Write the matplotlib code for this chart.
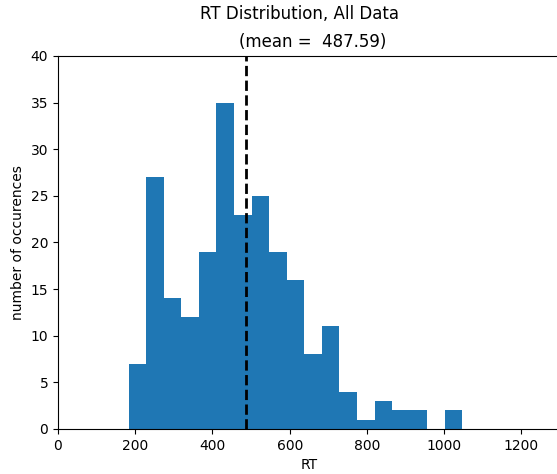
import numpy as np
import matplotlib
matplotlib.use("Agg")
import matplotlib.pyplot as plt

# histogram: 19 equal bins
bin_start = 183.0
bin_end = 1047.0
counts = [7, 27, 14, 12, 19, 35, 23, 25, 19, 16, 8, 11, 4, 1, 3, 2, 2, 0, 2]
mean_rt = 487.59

edges = np.linspace(bin_start, bin_end, len(counts) + 1)
centers = (edges[:-1] + edges[1:]) / 2

fig = plt.figure(figsize=(5.57, 4.74), dpi=100)
ax = fig.add_axes([58 / 557, 45 / 474, 502 / 557, 373 / 474])

ax.hist(centers, bins=edges, weights=counts, color="#1f77b4")
ax.axvline(mean_rt, color="black", linestyle="--", linewidth=2)

ax.set_xlim(0, 1300)
ax.set_ylim(0, 40)
ax.set_xlabel("RT")
ax.set_ylabel("number of occurences")

fig.text(300 / 557, 1 - 14 / 474, "RT Distribution, All Data", ha="center", va="center", fontsize=12)
fig.text(313 / 557, 1 - 42 / 474, "(mean =  %.2f)" % mean_rt, ha="center", va="center", fontsize=12)

fig.savefig("out.png", dpi=100)
